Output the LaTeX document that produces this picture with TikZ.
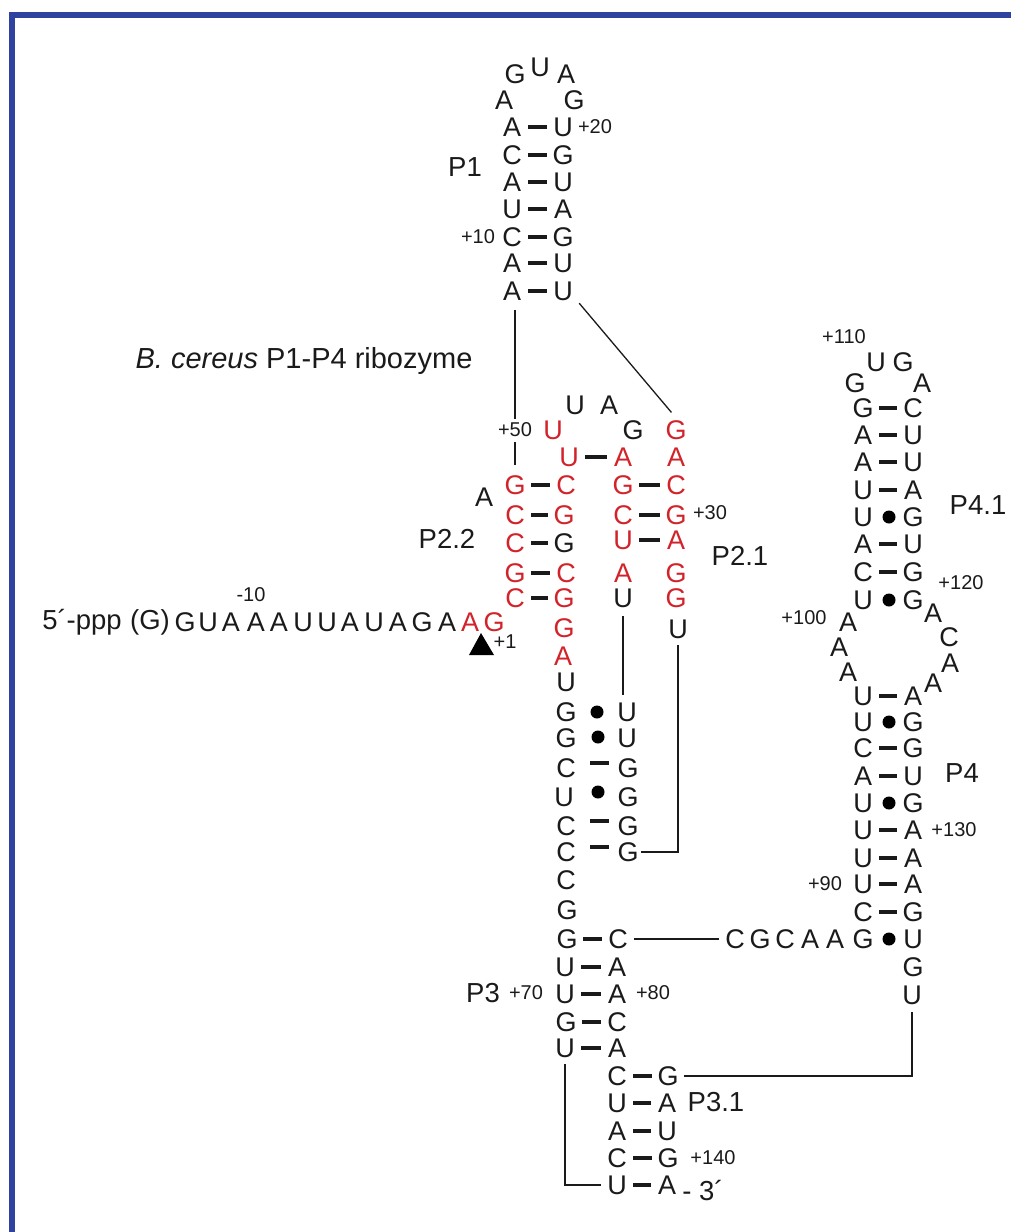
\documentclass[tikz,border=0pt]{standalone}
\usepackage{fontspec}
\setmainfont{Liberation Sans}
\usepackage{xcolor}
\definecolor{ink}{HTML}{1A1A1A}
\definecolor{strand_red}{HTML}{D2232A}
\definecolor{frame_blue}{HTML}{2F429F}

\begin{document}
\begin{tikzpicture}[
    x=1pt, y=-1pt,
    base/.style={rectangle, align=center, inner sep=0pt, minimum width=32pt, minimum height=24pt, text height=19pt, text depth=0pt, text=ink, font=\fontsize{27}{27}\selectfont},
    base_red/.style={base, text=strand_red},
    pair/.style={draw=ink, line width=3.2pt},
    pair_wide/.style={pair, shorten <=8pt, shorten >=3pt},
    wobble/.style={circle, fill=black, inner sep=0pt, minimum size=13pt},
    num/.style={inner sep=0pt, text=ink, font=\fontsize{20}{20}\selectfont},
    helix/.style={inner sep=0pt, text=ink, font=\fontsize{27.5}{27.5}\selectfont},
    conn/.style={draw=ink, line width=1.3pt},
]
    \useasboundingbox (0, 0) rectangle (1011, 1232);
    \draw[frame_blue, line width=6pt] (11.5, 1232) -- (11.5, 14.7) -- (1011, 14.7);

    \node(title)[helix, font=\fontsize{29}{29}\selectfont] at (304, 361) {\textit{B. cereus} P1-P4 ribozyme};

    % P1
    \node(p1_loop1)[base] at (504, 100) {A};
    \node(p1_loop2)[base] at (515, 74) {G};
    \node(p1_loop3)[base] at (540, 67) {U};
    \node(p1_loop4)[base] at (566, 74) {A};
    \node(p1_loop5)[base] at (574, 100) {G};
    \node(p1_l1)[base] at (512, 127) {A};  \node(p1_r1)[base] at (563, 127) {U};
    \node(p1_l2)[base] at (512, 155) {C};  \node(p1_r2)[base] at (563, 155) {G};
    \node(p1_l3)[base] at (512, 182) {A};  \node(p1_r3)[base] at (563, 182) {U};
    \node(p1_l4)[base] at (512, 209) {U};  \node(p1_r4)[base] at (563, 209) {A};
    \node(p1_l5)[base] at (512, 237) {C};  \node(p1_r5)[base] at (563, 237) {G};
    \node(p1_l6)[base] at (512, 263) {A};  \node(p1_r6)[base] at (563, 263) {U};
    \node(p1_l7)[base] at (512, 291) {A};  \node(p1_r7)[base] at (563, 291) {U};
    \node(p1_label)[helix] at (465, 167) {P1};
    \node(num_20)[num] at (595, 127) {+20};
    \node(num_10)[num] at (478, 237) {+10};

    % P2.2 and the hairpin over it
    \node(p22_loop1)[base_red] at (553, 430) {U};
    \node(p22_loop2)[base] at (575, 405) {U};
    \node(p22_loop3)[base] at (609, 405) {A};
    \node(p22_loop4)[base] at (633, 430) {G};
    \node(p22_top_l)[base_red] at (569, 457) {U};  \node(p22_top_r)[base_red] at (623, 457) {A};
    \node(p22_l1)[base_red] at (515, 485) {G};  \node(p22_r1)[base_red] at (566, 485) {C};
    \node(p22_l2)[base_red] at (515, 515) {C};  \node(p22_r2)[base_red] at (564, 515) {G};
    \node(p22_l3)[base_red] at (515, 543) {C};  \node(p22_r3)[base] at (564, 543) {G};
    \node(p22_l4)[base_red] at (515, 573) {G};  \node(p22_r4)[base_red] at (566, 573) {C};
    \node(p22_l5)[base_red] at (515, 598) {C};  \node(p22_r5)[base_red] at (564, 598) {G};
    \node(p22_bulge)[base] at (484, 497) {A};
    \node(p22_label)[helix] at (447, 539) {P2.2};
    \node(num_50)[num] at (515, 430) {+50};

    % P2.1
    \node(p21_top1)[base_red] at (676, 430) {G};
    \node(p21_top2)[base_red] at (676, 457) {A};
    \node(p21_l1)[base_red] at (623, 485) {G};  \node(p21_r1)[base_red] at (676, 485) {C};
    \node(p21_l2)[base_red] at (623, 515) {C};  \node(p21_r2)[base_red] at (676, 515) {G};
    \node(p21_l3)[base_red] at (623, 540) {U};  \node(p21_r3)[base_red] at (676, 540) {A};
    \node(p21_l4)[base_red] at (623, 573) {A};  \node(p21_r4)[base_red] at (676, 573) {G};
    \node(p21_l5)[base] at (623, 598) {U};  \node(p21_r5)[base_red] at (676, 598) {G};
    \node(p21_r6)[base] at (678, 629) {U};
    \node(p21_label)[helix] at (740, 556) {P2.1};
    \node(num_30)[num] at (710, 513) {+30};

    % 5' strand
    \node(s_cap)[helix] at (82, 622) {5´-ppp};
    \node(s_g0)[helix] at (150, 622) {(G)};
    \node(s1)[base] at (185, 622) {G};
    \node(s2)[base] at (208, 622) {U};
    \node(s3)[base] at (231, 622) {A};
    \node(s4)[base] at (256, 622) {A};
    \node(s5)[base] at (279, 622) {A};
    \node(s6)[base] at (303, 622) {U};
    \node(s7)[base] at (327, 622) {U};
    \node(s8)[base] at (350, 622) {A};
    \node(s9)[base] at (374, 622) {U};
    \node(s10)[base] at (398, 622) {A};
    \node(s11)[base] at (422, 622) {G};
    \node(s12)[base] at (447, 622) {A};
    \node(s13)[base_red] at (470, 622) {A};
    \node(s14)[base_red] at (494, 622) {G};
    \node(num_m10)[num] at (251, 595) {-10};
    \node(num_1)[num] at (505, 642) {+1};
    \fill[black] (481, 633) -- (469, 655) -- (494, 655) -- cycle;

    % central stem
    \node(c1)[base_red] at (564, 628) {G};
    \node(c2)[base_red] at (563, 656) {A};
    \node(c3)[base] at (566, 682) {U};
    \node(gu_l1)[base] at (566, 712) {G};  \node(gu_r1)[base] at (627, 712) {U};
    \node(gu_l2)[base] at (566, 738) {G};  \node(gu_r2)[base] at (627, 738) {U};
    \node(gu_l3)[base] at (566, 768) {C};  \node(gu_r3)[base] at (628, 768) {G};
    \node(gu_l4)[base] at (564, 797) {U};  \node(gu_r4)[base] at (628, 797) {G};
    \node(gu_l5)[base] at (566, 826) {C};  \node(gu_r5)[base] at (628, 826) {G};
    \node(gu_l6)[base] at (566, 852) {C};  \node(gu_r6)[base] at (628, 852) {G};
    \node(gu_dot1)[wobble] at (597, 712) {};
    \node(gu_dot2)[wobble] at (598, 737) {};
    \node(gu_dot4)[wobble] at (598, 792) {};
    \node(c4)[base] at (566, 880) {C};
    \node(c5)[base] at (567, 910) {G};

    % P3
    \node(p3_l1)[base] at (567, 939) {G};  \node(p3_r1)[base] at (618, 939) {C};
    \node(p3_l2)[base] at (565, 967) {U};  \node(p3_r2)[base] at (617, 967) {A};
    \node(p3_l3)[base] at (565, 994) {U};  \node(p3_r3)[base] at (617, 994) {A};
    \node(p3_l4)[base] at (566, 1022) {G}; \node(p3_r4)[base] at (617, 1022) {C};
    \node(p3_l5)[base] at (565, 1048) {U}; \node(p3_r5)[base] at (617, 1048) {A};
    \node(p3_label)[helix] at (483, 993) {P3};
    \node(num_70)[num] at (526, 993) {+70};
    \node(num_80)[num] at (653, 993) {+80};

    % P3.1
    \node(p31_l1)[base] at (617, 1076) {C};  \node(p31_r1)[base] at (668, 1076) {G};
    \node(p31_l2)[base] at (617, 1103) {U};  \node(p31_r2)[base] at (667, 1103) {A};
    \node(p31_l3)[base] at (617, 1131) {A};  \node(p31_r3)[base] at (667, 1131) {U};
    \node(p31_l4)[base] at (617, 1158) {C};  \node(p31_r4)[base] at (668, 1158) {G};
    \node(p31_l5)[base] at (617, 1185) {U};  \node(p31_r5)[base] at (667, 1185) {A};
    \node(p31_label)[helix] at (716, 1102) {P3.1};
    \node(num_140)[num] at (713, 1158) {+140};
    \node(s_end)[helix] at (703, 1190) {- 3´};

    % linker to P4
    \node(k1)[base] at (735, 939) {C};
    \node(k2)[base] at (760, 939) {G};
    \node(k3)[base] at (785, 939) {C};
    \node(k4)[base] at (810, 939) {A};
    \node(k5)[base] at (835, 939) {A};

    % P4
    \node(p4_l1)[base] at (863, 696) {U};  \node(p4_r1)[base] at (913, 696) {A};
    \node(p4_l2)[base] at (863, 722) {U};  \node(p4_r2)[base] at (913, 722) {G};
    \node(p4_l3)[base] at (863, 748) {C};  \node(p4_r3)[base] at (913, 748) {G};
    \node(p4_l4)[base] at (863, 776) {A};  \node(p4_r4)[base] at (913, 776) {U};
    \node(p4_l5)[base] at (863, 803) {U};  \node(p4_r5)[base] at (913, 803) {G};
    \node(p4_l6)[base] at (863, 830) {U};  \node(p4_r6)[base] at (913, 830) {A};
    \node(p4_l7)[base] at (863, 858) {U};  \node(p4_r7)[base] at (913, 858) {A};
    \node(p4_l8)[base] at (863, 884) {U};  \node(p4_r8)[base] at (913, 884) {A};
    \node(p4_l9)[base] at (863, 912) {C};  \node(p4_r9)[base] at (913, 912) {G};
    \node(p4_l10)[base] at (863, 939) {G}; \node(p4_r10)[base] at (913, 939) {U};
    \node(p4_tail1)[base] at (913, 967) {G};
    \node(p4_tail2)[base] at (912, 995) {U};
    \node(p4_dot2)[wobble] at (889, 722) {};
    \node(p4_dot5)[wobble] at (889, 803) {};
    \node(p4_dot10)[wobble] at (889, 939) {};
    \node(p4_label)[helix] at (962, 773) {P4};
    \node(num_130)[num] at (954, 830) {+130};
    \node(num_90)[num] at (825, 884) {+90};

    % internal loop
    \node(il1)[base] at (848, 622) {A};
    \node(il2)[base] at (839, 647) {A};
    \node(il3)[base] at (848, 672) {A};
    \node(il4)[base] at (933, 613) {A};
    \node(il5)[base] at (949, 637) {C};
    \node(il6)[base] at (950, 663) {A};
    \node(il7)[base] at (933, 683) {A};
    \node(num_100)[num] at (804, 618) {+100};
    \node(num_120)[num] at (961, 583) {+120};

    % P4.1
    \node(p41_loop1)[base] at (855, 383) {G};
    \node(p41_loop2)[base] at (876, 362) {U};
    \node(p41_loop3)[base] at (903, 362) {G};
    \node(p41_loop4)[base] at (922, 383) {A};
    \node(p41_l1)[base] at (863, 408) {G};  \node(p41_r1)[base] at (913, 408) {C};
    \node(p41_l2)[base] at (863, 435) {A};  \node(p41_r2)[base] at (913, 435) {U};
    \node(p41_l3)[base] at (863, 462) {A};  \node(p41_r3)[base] at (913, 462) {U};
    \node(p41_l4)[base] at (863, 490) {U};  \node(p41_r4)[base] at (913, 490) {A};
    \node(p41_l5)[base] at (863, 517) {U};  \node(p41_r5)[base] at (913, 517) {G};
    \node(p41_l6)[base] at (863, 544) {A};  \node(p41_r6)[base] at (913, 544) {U};
    \node(p41_l7)[base] at (863, 572) {C};  \node(p41_r7)[base] at (913, 572) {G};
    \node(p41_l8)[base] at (863, 600) {U};  \node(p41_r8)[base] at (913, 600) {G};
    \node(p41_dot5)[wobble] at (889, 517) {};
    \node(p41_dot8)[wobble] at (889, 600) {};
    \node(p41_label)[helix] at (978, 505) {P4.1};
    \node(num_110)[num] at (844, 337) {+110};

    % base pairs
    \draw[pair] (p1_l1) -- (p1_r1);
    \draw[pair] (p1_l2) -- (p1_r2);
    \draw[pair] (p1_l3) -- (p1_r3);
    \draw[pair] (p1_l4) -- (p1_r4);
    \draw[pair] (p1_l5) -- (p1_r5);
    \draw[pair] (p1_l6) -- (p1_r6);
    \draw[pair] (p1_l7) -- (p1_r7);
    \draw[pair] (p22_top_l) -- (p22_top_r);
    \draw[pair] (p22_l1) -- (p22_r1);
    \draw[pair] (p22_l2) -- (p22_r2);
    \draw[pair] (p22_l3) -- (p22_r3);
    \draw[pair] (p22_l4) -- (p22_r4);
    \draw[pair] (p22_l5) -- (p22_r5);
    \draw[pair] (p21_l1) -- (p21_r1);
    \draw[pair] (p21_l2) -- (p21_r2);
    \draw[pair] (p21_l3) -- (p21_r3);
    \draw[pair_wide] ([yshift=5pt]gu_l3.east) -- ([yshift=5pt]gu_r3.west);
    \draw[pair_wide] ([yshift=5pt]gu_l5.east) -- ([yshift=5pt]gu_r5.west);
    \draw[pair_wide] ([yshift=5pt]gu_l6.east) -- ([yshift=5pt]gu_r6.west);
    \draw[pair] (p3_l1) -- (p3_r1);
    \draw[pair] (p3_l2) -- (p3_r2);
    \draw[pair] (p3_l3) -- (p3_r3);
    \draw[pair] (p3_l4) -- (p3_r4);
    \draw[pair] (p3_l5) -- (p3_r5);
    \draw[pair] (p31_l1) -- (p31_r1);
    \draw[pair] (p31_l2) -- (p31_r2);
    \draw[pair] (p31_l3) -- (p31_r3);
    \draw[pair] (p31_l4) -- (p31_r4);
    \draw[pair] (p31_l5) -- (p31_r5);
    \draw[pair] (p4_l1) -- (p4_r1);
    \draw[pair] (p4_l3) -- (p4_r3);
    \draw[pair] (p4_l4) -- (p4_r4);
    \draw[pair] (p4_l6) -- (p4_r6);
    \draw[pair] (p4_l7) -- (p4_r7);
    \draw[pair] (p4_l8) -- (p4_r8);
    \draw[pair] (p4_l9) -- (p4_r9);
    \draw[pair] (p41_l1) -- (p41_r1);
    \draw[pair] (p41_l2) -- (p41_r2);
    \draw[pair] (p41_l3) -- (p41_r3);
    \draw[pair] (p41_l4) -- (p41_r4);
    \draw[pair] (p41_l6) -- (p41_r6);
    \draw[pair] (p41_l7) -- (p41_r7);

    % long connectors
    \draw[conn, shorten <=7pt, shorten >=4pt] (p1_l7.south -| num_50.north) -- (num_50.north);
    \draw[conn, shorten <=5pt, shorten >=8pt] (num_50.south) -- (p22_l1.north);
    \draw[conn, shorten >=7pt] (p1_r7.south east) -- (p21_top1.north);
    \draw[conn, shorten <=6pt, shorten >=5pt] (p21_l5.south) -- (gu_r1.north -| p21_l5.south);
    \draw[conn, shorten <=4pt, shorten >=-3pt] (p21_r6.south) |- (gu_r6.east);
    \draw[conn] (p3_r1.east) -- (k1.west);
    \draw[conn, shorten <=4pt] (p3_l5.south) |- (p31_l5.west);
    \draw[conn, shorten >=5pt] (p31_r1.east) -| (p4_tail2.south);
\end{tikzpicture}
\end{document}
